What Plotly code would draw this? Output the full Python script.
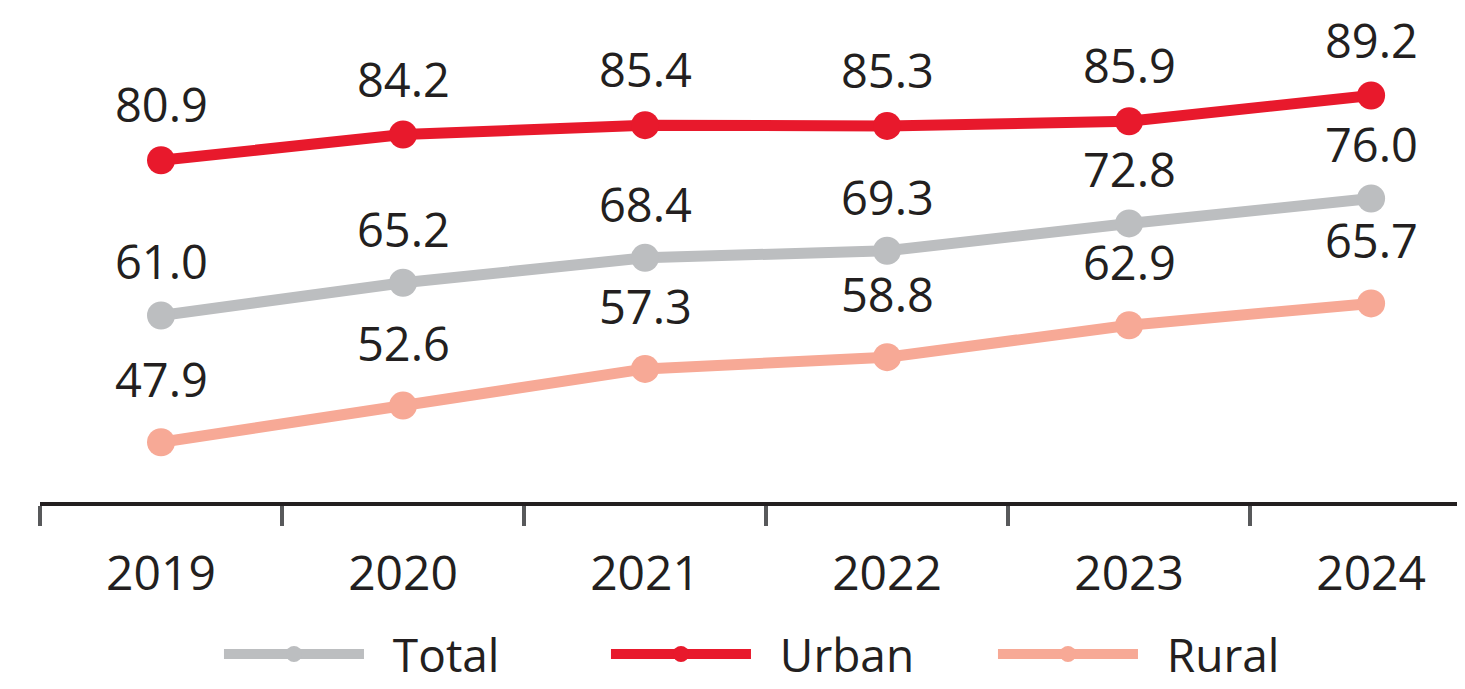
import plotly.graph_objects as go

years = ["2019", "2020", "2021", "2022", "2023", "2024"]
total = [61.0, 65.2, 68.4, 69.3, 72.8, 76.0]
urban = [80.9, 84.2, 85.4, 85.3, 85.9, 89.2]
rural = [47.9, 52.6, 57.3, 58.8, 62.9, 65.7]

C_TOTAL = "#BCBEC0"
C_URBAN = "#E8192C"
C_RURAL = "#F7A996"
TXT = "#231F20"
FONT = "Open Sans"
GAP = "\u00a0\u00a0"

fig = go.Figure()
series = [
    ("Total", total, C_TOTAL, "y", 54),
    ("Urban", urban, C_URBAN, "y", 56),
    ("Rural", rural, C_RURAL, "y2", 63),
]
for name, vals, col, ax, shift in series:
    fig.add_trace(go.Scatter(
        x=years, y=vals, name=GAP + name, mode="lines+markers",
        line=dict(color=col, width=11),
        marker=dict(color=col, size=28),
        yaxis=ax, cliponaxis=False,
    ))
    for i, yv in enumerate(vals):
        fig.add_annotation(
            x=i, y=yv, xref="x", yref=ax, text=f"{yv:.1f}",
            showarrow=False, yshift=shift,
            font=dict(family=FONT, size=47, color=TXT),
        )

fig.update_layout(
    width=1457, height=681,
    margin=dict(l=32, r=0, t=0, b=187, autoexpand=False),
    paper_bgcolor="white", plot_bgcolor="white",
    font=dict(family=FONT, color=TXT),
    xaxis=dict(
        type="category", range=[-0.5, 5.388],
        tickson="boundaries", ticks="outside", ticklen=20, tickwidth=4,
        tickcolor="#58595B", showline=True, linecolor=TXT, linewidth=4,
        showgrid=False, zeroline=False,
        tickfont=dict(family=FONT, size=48, color=TXT),
        ticklabelstandoff=26,
    ),
    yaxis=dict(visible=False, range=[37.09, 100.42]),
    yaxis2=dict(visible=False, range=[40.24, 103.57], overlaying="y"),
    showlegend=True,
    legend=dict(
        orientation="h", xref="container", yref="paper",
        x=0.1448, xanchor="left", y=-0.234, yanchor="top",
        font=dict(family=FONT, size=46, color=TXT),
        entrywidth=232, entrywidthmode="pixels",
        itemwidth=140,
    ),
)

fig.write_html("out.html")
